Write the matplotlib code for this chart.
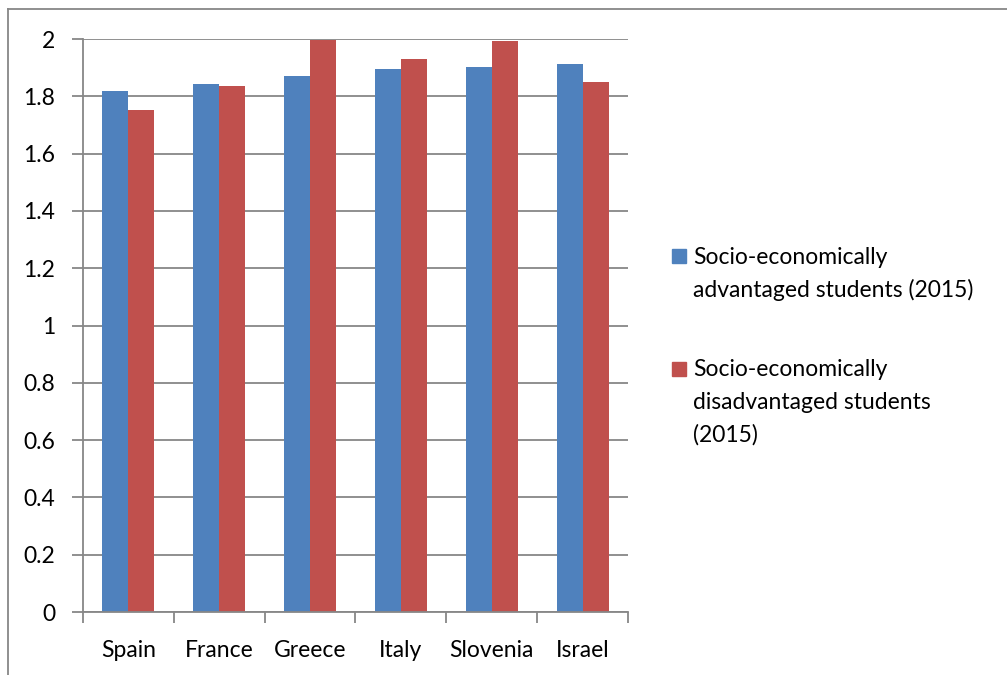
import matplotlib
matplotlib.use("Agg")
import matplotlib.pyplot as plt
from matplotlib.patches import Rectangle
from matplotlib.lines import Line2D
import numpy as np

plt.rcParams['font.family'] = ['Lato', 'DejaVu Sans']

countries = ["Spain", "France", "Greece", "Italy", "Slovenia", "Israel"]
advantaged = [1.817, 1.844, 1.870, 1.895, 1.904, 1.912]
disadvantaged = [1.753, 1.835, 1.998, 1.929, 1.992, 1.850]
series_labels = ["Socio-economically\nadvantaged students (2015)",
                 "Socio-economically\ndisadvantaged students\n(2015)"]
yticks = [0, 0.2, 0.4, 0.6, 0.8, 1, 1.2, 1.4, 1.6, 1.8, 2]

blue = "#4F81BD"
red = "#C0504D"
grid_col = "#878787"
fs = 16.5

fig = plt.figure(figsize=(10.07, 6.75), dpi=100)
ax = fig.add_axes([0.0824, 0.0933, 0.5412, 0.8489])

x = np.arange(len(countries))
w = 1 / 3.5
ax.bar(x - w / 2, advantaged, w, color=blue, edgecolor="none")
ax.bar(x + w / 2, disadvantaged, w, color=red, edgecolor="none")

ax.set_xlim(-0.5, len(countries) - 0.5)
ax.set_ylim(0, 2)
ax.set_yticks(yticks)
ax.set_yticklabels(["0", "0.2", "0.4", "0.6", "0.8", "1", "1.2", "1.4", "1.6", "1.8", "2"])
ax.yaxis.grid(True, color=grid_col, lw=1.3)
ax.set_axisbelow(True)

# category boundaries as major ticks, labels on minor ticks
ax.set_xticks(np.arange(-0.5, len(countries), 1.0))
ax.set_xticklabels([])
ax.set_xticks(x, minor=True)
ax.set_xticklabels(countries, minor=True)
ax.tick_params(axis="x", which="major", length=8, width=1.3, color=grid_col, direction="out")
ax.tick_params(axis="x", which="minor", length=0, pad=20, labelsize=fs)
ax.tick_params(axis="y", length=8, width=1.3, color=grid_col, direction="out", pad=12, labelsize=fs)

for s in ["top", "right"]:
    ax.spines[s].set_visible(False)
for s in ["left", "bottom"]:
    ax.spines[s].set_color(grid_col)
    ax.spines[s].set_linewidth(1.3)

# legend drawn by hand so the squares sit on the first line
fw, fh = 1007, 675
leg_y = [256, 369]
for lab, col, ly in zip(series_labels, [blue, red], leg_y):
    fig.add_artist(Rectangle((672 / fw, 1 - (ly + 7) / fh), 14 / fw, 14 / fh,
                             transform=fig.transFigure, color=col))
    fig.text(693 / fw, 1 - (ly - 9.5) / fh, lab, fontsize=fs, va="top", ha="left",
             linespacing=1.65)

# outer chart frame (only top and left visible)
fig.add_artist(Line2D([8 / fw, 8 / fw], [0, 1 - 9 / fh], color=grid_col, lw=1.3,
                      transform=fig.transFigure))
fig.add_artist(Line2D([8 / fw, 1], [1 - 9 / fh, 1 - 9 / fh], color=grid_col, lw=1.3,
                      transform=fig.transFigure))

fig.savefig("out.png", dpi=100)
